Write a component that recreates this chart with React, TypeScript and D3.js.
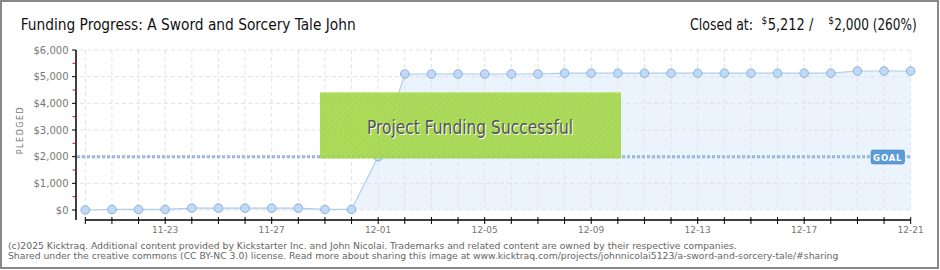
import React from "react";
import * as d3 from "d3";

const days = [
  "11-20","11-21","11-22","11-23","11-24","11-25","11-26","11-27","11-28","11-29","11-30",
  "12-01","12-02","12-03","12-04","12-05","12-06","12-07","12-08","12-09","12-10",
  "12-11","12-12","12-13","12-14","12-15","12-16","12-17","12-18","12-19","12-20","12-21",
];
const pledged = [
  0, 20, 20, 20, 70, 70, 70, 70, 70, 20, 20,
  2000, 5100, 5100, 5100, 5100, 5100, 5100, 5130, 5130, 5130,
  5130, 5130, 5130, 5130, 5130, 5130, 5130, 5130, 5212, 5212, 5212,
];
const xTickLabels = ["11-23", "11-27", "12-01", "12-05", "12-09", "12-13", "12-17", "12-21"];
const yTicks = [0, 1000, 2000, 3000, 4000, 5000, 6000];
const yMinorTicks = [500, 1500, 2500, 3500, 4500, 5500];
const goal = 2000;

const titleText = "Funding Progress: A Sword and Sorcery Tale John";
const footer1 = "(c)2025 Kicktraq. Additional content provided by Kickstarter Inc. and John Nicolai. Trademarks and related content are owned by their respective companies.";
const footer2 = "Shared under the creative commons (CC BY-NC 3.0) license. Read more about sharing this image at www.kicktraq.com/projects/johnnicolai5123/a-sword-and-sorcery-tale/#sharing";

const HEAD = "'Liberation Sans Narrow', 'DejaVu Sans Condensed', sans-serif";
const SMALL = "'DejaVu Sans', Verdana, sans-serif";

export default function App() {
  const x = d3.scalePoint<string>().domain(days).range([85.3, 910.7]);
  const y = d3.scaleLinear().domain([0, 6000]).range([210, 50]);
  const pts = days.map((d, i) => ({ d, v: pledged[i] }));
  const line = d3.line<any>().x((p) => x(p.d)!).y((p) => y(p.v));
  const area = d3.area<any>().x((p) => x(p.d)!).y0(y(0)).y1((p) => y(p.v));
  const fmt = d3.format("$,");
  const gy = y(goal);

  return (
    <svg width={940} height={270} style={{ position: "absolute", left: 0, top: 0, background: "#fff" }}>
      <defs>
        <pattern id="hatch" width="4" height="4" patternUnits="userSpaceOnUse" patternTransform="rotate(45)">
          <rect width="4" height="4" fill="#a6d94d" />
          <line x1="0" y1="0" x2="0" y2="4" stroke="#9ccf45" strokeWidth="1.5" />
        </pattern>
      </defs>
      <rect x={1} y={1} width={937} height={267} fill="#fff" stroke="#888" strokeWidth={2} />

      {/* area fill */}
      <path d={area(pts)!} fill="#ebf3fc" />

      {/* gridlines */}
      {yTicks.slice(1).map((t) => (
        <line key={"gy" + t} x1={80} x2={910.7} y1={y(t)} y2={y(t)} stroke="#dfe2e6" strokeDasharray="4 3" />
      ))}
      <line x1={80} x2={910.7} y1={y(0)} y2={y(0)} stroke="#dfe2e6" strokeDasharray="4 3" />
      {days.map((d) => (
        <line key={"gx" + d} x1={x(d)} x2={x(d)} y1={50} y2={210} stroke="#dfe2e6" strokeDasharray="4 3" />
      ))}

      {/* goal line */}
      <line x1={77} x2={910.7} y1={gy} y2={gy} stroke="#8fb3de" strokeWidth={3} strokeDasharray="3 2" />
      <line x1={77} x2={910.7} y1={gy} y2={gy} stroke="#bcd3ef" strokeWidth={1} strokeDasharray="1 4" strokeDashoffset={-1} />

      {/* data line and markers */}
      <path d={line(pts)!} fill="none" stroke="#aecdee" strokeWidth={1.2} />
      {pts.map((p) => (
        <circle key={"c" + p.d} cx={x(p.d)} cy={y(p.v)} r={4.3} fill="#bfdaf6" stroke="#8fb0d6" strokeWidth={1} />
      ))}

      {/* success box */}
      <rect x={320} y={92.5} width={301} height={66} fill="url(#hatch)" opacity={0.92} />
      <line x1={320} x2={621} y1={93} y2={93} stroke="#b8e26c" strokeWidth={1} />
      <text x={470} y={134} textAnchor="middle" fontFamily={HEAD} fontSize={20} fill="#fff" textLength={206} lengthAdjust="spacingAndGlyphs" transform="translate(1,1)">
        Project Funding Successful
      </text>
      <text x={470} y={134} textAnchor="middle" fontFamily={HEAD} fontSize={20} fill="#555" textLength={206} lengthAdjust="spacingAndGlyphs">
        Project Funding Successful
      </text>

      {/* goal label */}
      <rect x={871} y={150} width={33.5} height={14} rx={2} fill="#5b9bd8" stroke="#4a87c4" strokeWidth={0.6} />
      <text x={887.7} y={160.5} textAnchor="middle" fontFamily={SMALL} fontSize={8.5} fontWeight="bold" fill="#fff" letterSpacing={0.8}>
        GOAL
      </text>

      {/* y axis */}
      <line x1={76} x2={76} y1={50} y2={220} stroke="#000" strokeWidth={1.5} />
      {yTicks.map((t) => (
        <g key={"yt" + t}>
          <line x1={72} x2={76} y1={y(t)} y2={y(t)} stroke="#000" strokeWidth={1} />
          <text x={68.5} y={y(t)} dy="0.35em" textAnchor="end" fontFamily={SMALL} fontSize={10} fill="#777">
            {fmt(t)}
          </text>
        </g>
      ))}
      {yMinorTicks.map((t) => (
        <line key={"ym" + t} x1={72.5} x2={75.5} y1={y(t)} y2={y(t)} stroke="#e00" strokeWidth={1} />
      ))}
      <text transform="translate(23,130) rotate(-90)" textAnchor="middle" fontFamily={SMALL} fontSize={8} fill="#777" letterSpacing={1.5}>
        PLEDGED
      </text>

      {/* x axis */}
      <line x1={85.3} x2={910.7} y1={220} y2={220} stroke="#000" strokeWidth={1.5} />
      {days.map((d) => (
        <line key={"xt" + d} x1={x(d)} x2={x(d)} y1={217} y2={224} stroke="#000" strokeWidth={1} />
      ))}
      {xTickLabels.map((d) => (
        <text key={"xl" + d} x={x(d)} y={233} textAnchor="middle" fontFamily={SMALL} fontSize={9} fill="#777">
          {d}
        </text>
      ))}

      {/* header */}
      <text x={20.7} y={29.5} fontFamily={HEAD} fontSize={16} fill="#111" textLength={335} lengthAdjust="spacingAndGlyphs">
        {titleText}
      </text>
      <text x={690} y={29.5} fontFamily={HEAD} fontSize={16} fill="#111" textLength={63} lengthAdjust="spacingAndGlyphs">Closed at:</text>
      <text x={761.5} y={24} fontFamily={HEAD} fontSize={10} fill="#111">$</text>
      <text x={767.7} y={29.5} fontFamily={HEAD} fontSize={16} fill="#111" textLength={45.6} lengthAdjust="spacingAndGlyphs">5,212 /</text>
      <text x={828.3} y={24} fontFamily={HEAD} fontSize={10} fill="#111">$</text>
      <text x={834.3} y={29.5} fontFamily={HEAD} fontSize={16} fill="#111" textLength={82.4} lengthAdjust="spacingAndGlyphs">2,000 (260%)</text>

      {/* footer */}
      <text x={8} y={248.5} fontFamily={SMALL} fontSize={9.5} fill="#666" textLength={728.7} lengthAdjust="spacingAndGlyphs">{footer1}</text>
      <text x={8} y={258.5} fontFamily={SMALL} fontSize={9.5} fill="#666" textLength={830.3} lengthAdjust="spacingAndGlyphs">{footer2}</text>
    </svg>
  );
}
